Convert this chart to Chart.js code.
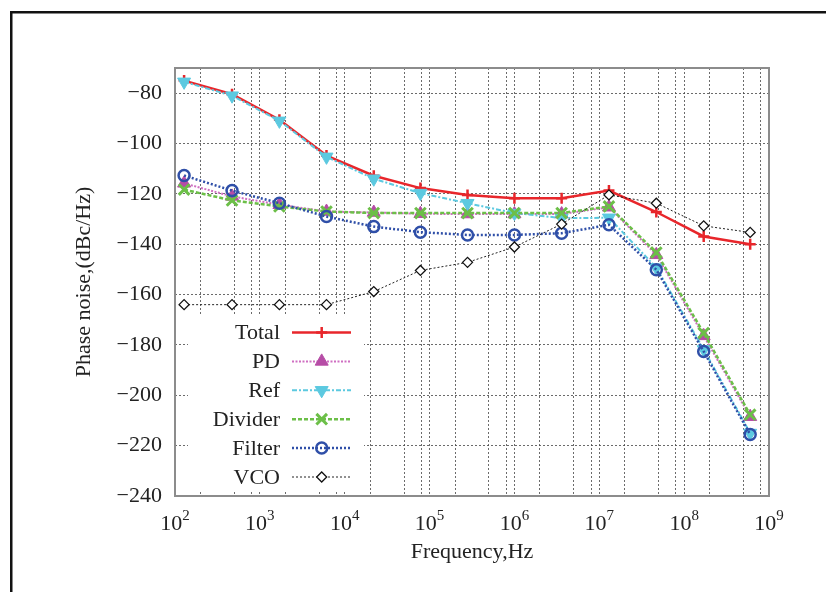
<!DOCTYPE html>
<html>
<head>
<meta charset="utf-8">
<script src="https://cdn.jsdelivr.net/npm/chart.js@4.4.0/dist/chart.umd.min.js"></script>
<style>
  html, body { margin: 0; padding: 0; background: #fff; }
  canvas { display: block; }
</style>
</head>
<body>
<canvas id="chart" width="826" height="592"></canvas>
<script>
// offset frequencies, Hz
const freqs = [128, 470, 1.7e3, 6.1e3, 2.2e4, 7.8e4, 2.8e5, 1.0e6, 3.6e6, 1.3e7, 4.7e7, 1.7e8, 6.0e8]

// phase noise, dBc/Hz
const total   = [-75, -80.4, -90.6, -104.8, -112.8, -117.7, -120.4, -121.7, -121.7, -118.7, -127.2, -136.9, -140]
const pd      = [-115.8, -121, -124.3, -127, -127.4, -127.9, -128, -128, -128, -125.3, -144.2, -176.4, -208.5]
const ref     = [-75.5, -81, -91, -105.3, -114, -119.7, -123.7, -127.6, -129.6, -129.5, -149.3, -181.8, -215]
const divider = [-118.3, -122.6, -125, -127, -127.6, -127.6, -127.6, -127.6, -127.6, -125, -143.3, -175.3, -207.7]
const filter  = [-112.7, -118.7, -123.7, -129, -133, -135.2, -136.3, -136.3, -135.6, -132.3, -150.1, -182.6, -215.6]
const vco     = [-164, -164, -164, -164, -158.8, -150.4, -147.2, -141.1, -132, -120.4, -123.7, -132.7, -135.3]

const seriesNames = ['Total', 'PD', 'Ref', 'Divider', 'Filter', 'VCO']

// axis ticks
const xDecades = [2, 3, 4, 5, 6, 7, 8, 9]
const xMinorSteps = [2, 5, 8]
const yTicks = [-240, -220, -200, -180, -160, -140, -120, -100, -80]

const serif = "'Liberation Serif', 'Times New Roman', serif"
const textColor = '#222'
const gridColor = 'rgba(70,70,70,0.8)'

const pts = vals => freqs.map((f, i) => ({x: f, y: vals[i]}))

const datasets = [
    {label: seriesNames[0], data: pts(total), borderColor: '#e8262b', borderWidth: 2.5, borderDash: [],
     pointStyle: 'cross', pointRadius: 5.5, pointBorderWidth: 2.5, pointBorderColor: '#e8262b', pointBackgroundColor: '#e8262b'},
    {label: seriesNames[1], data: pts(pd), borderColor: '#cf6fc2', borderWidth: 2, borderDash: [2, 1.5],
     pointStyle: 'triangle', pointRadius: 7.5, pointBorderWidth: 1, pointBorderColor: '#b64ca6', pointBackgroundColor: '#b64ca6'},
    {label: seriesNames[2], data: pts(ref), borderColor: '#5cc9e0', borderWidth: 2, borderDash: [5, 2, 2, 2],
     pointStyle: 'triangle', pointRotation: 180, pointRadius: 7.5, pointBorderWidth: 1, pointBorderColor: '#5cc9e0', pointBackgroundColor: '#5cc9e0'},
    {label: seriesNames[3], data: pts(divider), borderColor: '#6cbf48', borderWidth: 2.5, borderDash: [4, 2],
     pointStyle: 'crossRot', pointRadius: 7.5, pointBorderWidth: 3, pointBorderColor: '#6cbf48', pointBackgroundColor: '#6cbf48'},
    {label: seriesNames[4], data: pts(filter), borderColor: '#2f4fa8', borderWidth: 2.5, borderDash: [2, 2],
     pointStyle: 'circle', pointRadius: 5.5, pointBorderWidth: 2.5, pointBorderColor: '#2f4fa8', pointBackgroundColor: 'rgba(0,0,0,0)'},
    {label: seriesNames[5], data: pts(vco), borderColor: '#222', borderWidth: 1, borderDash: [2, 2],
     pointStyle: 'rectRot', pointRadius: 5, pointBorderWidth: 1.3, pointBorderColor: '#111', pointBackgroundColor: '#fff'}
]
// later series on top, like the original
datasets.forEach((d, i) => { d.order = datasets.length - i; d.showLine = true; d.fill = false; d.tension = 0 })

const decor = {
    id: 'decor',
    beforeDraw(chart) {
        const ctx = chart.ctx
        ctx.save()
        ctx.fillStyle = '#fff'
        ctx.fillRect(0, 0, chart.width, chart.height)
        // outer frame of the figure
        ctx.fillStyle = '#111'
        ctx.fillRect(10, 11, 2.5, chart.height)
        ctx.fillRect(10, 11, chart.width, 2.5)
        ctx.restore()
    },
    beforeDatasetsDraw(chart) {
        const {ctx, chartArea: a} = chart
        ctx.save()
        // key box hides the grid
        ctx.fillStyle = '#fff'
        ctx.fillRect(188, 314, 176, 176)
        ctx.strokeStyle = '#8c8c8c'
        ctx.lineWidth = 2
        ctx.strokeRect(a.left, a.top, a.right - a.left, a.bottom - a.top)
        ctx.restore()
    },
    afterDraw(chart) {
        const ctx = chart.ctx
        const xs = chart.scales.x
        ctx.save()
        ctx.fillStyle = textColor
        ctx.textBaseline = 'alphabetic'
        ctx.textAlign = 'left'
        xDecades.forEach(n => {
            const x = xs.getPixelForValue(10 ** n)
            ctx.font = '22px ' + serif
            const w1 = ctx.measureText('10').width
            ctx.font = '15px ' + serif
            const w2 = ctx.measureText(String(n)).width
            const x0 = x - (w1 + w2) / 2
            ctx.font = '22px ' + serif
            ctx.fillText('10', x0, 530)
            ctx.font = '15px ' + serif
            ctx.fillText(String(n), x0 + w1, 520)
        })

        // key
        chart.data.datasets.forEach((d, i) => {
            const y = 332.5 + i * 28.9
            ctx.font = '22px ' + serif
            ctx.fillStyle = textColor
            ctx.textAlign = 'right'
            ctx.textBaseline = 'middle'
            ctx.fillText(d.label, 280, y + 1)

            ctx.strokeStyle = d.borderColor
            ctx.lineWidth = d.borderWidth
            ctx.setLineDash(d.borderDash)
            ctx.beginPath()
            ctx.moveTo(292, y)
            ctx.lineTo(351, y)
            ctx.stroke()
            ctx.setLineDash([])

            ctx.strokeStyle = d.pointBorderColor
            ctx.fillStyle = d.pointBackgroundColor
            ctx.lineWidth = d.pointBorderWidth
            Chart.helpers.drawPoint(ctx, {
                pointStyle: d.pointStyle,
                rotation: d.pointRotation || 0,
                radius: d.pointRadius,
                borderWidth: d.pointBorderWidth
            }, 321.7, y)
        })
        ctx.restore()
    }
}

new Chart(document.getElementById('chart'), {
    type: 'scatter',
    data: {datasets: datasets},
    options: {
        responsive: false,
        animation: false,
        layout: {padding: {left: 0, top: 68, right: 57, bottom: 0}},
        plugins: {
            legend: {display: false},
            tooltip: {enabled: false}
        },
        scales: {
            x: {
                type: 'logarithmic',
                min: 1e2,
                max: 1e9,
                afterBuildTicks: scale => {
                    const ticks = []
                    for (let n = xDecades[0] - 1; n < xDecades[xDecades.length - 1]; n++) {
                        ticks.push({value: 10 ** n})
                        xMinorSteps.forEach(m => ticks.push({value: m * 10 ** n}))
                    }
                    ticks.push({value: 10 ** xDecades[xDecades.length - 1]})
                    scale.ticks = ticks.filter(t => t.value >= 1e2)
                },
                afterFit: scale => { scale.height = 96 },
                ticks: {display: false},
                grid: {color: gridColor, lineWidth: 1, drawTicks: false},
                border: {display: false, dash: [2, 2]},
                title: {display: true, text: 'Frequency,Hz', color: textColor,
                        font: {family: serif, size: 22}, padding: {top: 0, bottom: 27}}
            },
            y: {
                type: 'linear',
                min: -240,
                max: -70,
                afterBuildTicks: scale => { scale.ticks = yTicks.map(v => ({value: v})) },
                afterFit: scale => { scale.width = 175 },
                ticks: {
                    color: textColor,
                    padding: 13,
                    font: {family: serif, size: 22},
                    callback: v => '\u2212' + Math.abs(v)
                },
                grid: {color: gridColor, lineWidth: 1, drawTicks: false},
                border: {display: false, dash: [2, 2]},
                title: {display: true, text: 'Phase noise,(dBc/Hz)', color: textColor,
                        font: {family: serif, size: 22}, padding: {top: 71, bottom: 0}}
            }
        }
    },
    plugins: [decor]
})
</script>
</body>
</html>
